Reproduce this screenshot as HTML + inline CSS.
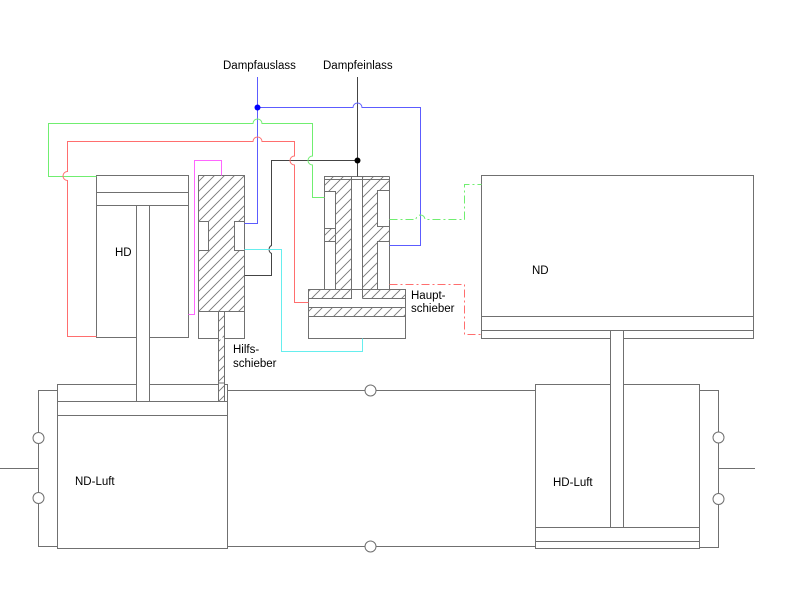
<!DOCTYPE html>
<html><head><meta charset="utf-8"><style>
html,body{margin:0;padding:0;background:#fff;}
svg{display:block;}
text{font-family:"Liberation Sans",Arial,sans-serif;font-size:11.5px;fill:#000;}
</style></head><body>
<svg width="800" height="600" viewBox="0 0 800 600" xmlns="http://www.w3.org/2000/svg">
<defs>
<pattern id="h" patternUnits="userSpaceOnUse" width="10" height="10">
<path d="M0,10 L10,0 M-2,2 L2,-2 M8,12 L12,8" stroke="#777" stroke-width="0.9"/>
</pattern>
</defs>
<g fill="none" stroke="#707070" stroke-width="1">
<!-- HD cylinder -->
<rect x="96.5" y="175.5" width="92" height="162" fill="#fff"/>
<path d="M96.5,192.5H188.5M96.5,205.5H188.5"/>
<path d="M136.5,205.5V401.5M149.5,205.5V401.5"/>
<path d="M137,337.5H149" stroke="#fff" stroke-width="2"/>

<!-- Hilfsschieber -->
<path d="M198.5,175.5H244.5V221.5H234.5V250.5H244.5V311.5H198.5V250.5H208.5V221.5H198.5Z" fill="url(#h)" stroke="none"/>
<rect x="198.5" y="175.5" width="46" height="163"/>
<path d="M198.5,221.5H208.5V250.5H198.5M244.5,221.5H234.5V250.5H244.5"/>
<path d="M198.5,311.5H244.5"/>
<rect x="218.5" y="311.5" width="6" height="90" fill="url(#h)"/>
<path d="M219,338.5H224" stroke="#fff" stroke-width="2"/>

<!-- Hauptschieber -->
<path d="M324.5,176.5H351.5V298.5H308.5V289.5H324.5V241.5H335.5V289.5V228.5H324.5V191.5H335.5V228.5H324.5Z" fill="none"/>
<path d="M324.5,176.5H351.5V298.5H308.5V289.5H335.5V241.5H324.5V228.5H335.5V191.5H324.5Z" fill="url(#h)" stroke="none"/>
<path d="M362.5,176.5H389.5V190.5H377.5V226.5H389.5V241.5H377.5V289.5H405.5V298.5H362.5Z" fill="url(#h)" stroke="none"/>
<rect x="308.5" y="307.5" width="97" height="9" fill="url(#h)" stroke="none"/>
<path d="M324.5,176.5H389.5M324.5,179.5H389.5"/>
<path d="M324.5,176.5V289.5M389.5,176.5V289.5"/>
<path d="M324.5,191.5H335.5V228.5H324.5M324.5,241.5H335.5V289.5"/>
<path d="M389.5,190.5H377.5V226.5H389.5M389.5,241.5H377.5V289.5"/>
<path d="M351.5,176.5V298.5M362.5,176.5V298.5"/>
<rect x="308.5" y="289.5" width="97" height="49"/>
<path d="M308.5,298.5H351.5M362.5,298.5H405.5M308.5,307.5H405.5M308.5,316.5H405.5"/>

<!-- ND cylinder -->
<rect x="481.5" y="175.5" width="272" height="163" fill="#fff"/>
<path d="M481.5,316.5H753.5M481.5,330.5H753.5"/>
<path d="M610.5,330.5V527.5M623.5,330.5V527.5"/>
<path d="M611,338.5H623" stroke="#fff" stroke-width="2"/>

<!-- ND-Luft -->
<rect x="57.5" y="384.5" width="170" height="164" fill="#fff"/>
<path d="M57.5,401.5H227.5M57.5,415.5H227.5"/>
<path d="M136.5,384V401.5M149.5,384V401.5" />
<path d="M137,384.5H149M219,384.5H224" stroke="#fff" stroke-width="2"/>
<path d="M136.5,383V401.5M149.5,383V401.5"/>
<rect x="218.5" y="383" width="6" height="18.5" fill="url(#h)"/>

<!-- HD-Luft -->
<rect x="535.5" y="384.5" width="164" height="164" fill="#fff"/>
<path d="M535.5,527.5H699.5M535.5,541.5H699.5"/>
<path d="M611,384.5H623" stroke="#fff" stroke-width="2"/>
<path d="M610.5,330.5V527.5M623.5,330.5V527.5"/>

<!-- air pipes -->
<path d="M57.5,390.5H38.5V546.5H57.5M38.5,468.5H0"/>
<path d="M227.5,390.5H535.5M227.5,546.5H535.5"/>
<path d="M699.5,390.5H718.5V547.5H699.5M718.5,468.5H755"/>
</g>
<!-- valves -->
<g fill="#fff" stroke="#707070" stroke-width="1">
<circle cx="38.5" cy="438" r="5.5"/>
<circle cx="38.5" cy="498" r="5.5"/>
<circle cx="370.5" cy="390.5" r="5.5"/>
<circle cx="370.5" cy="546.5" r="5.5"/>
<circle cx="718.5" cy="437.5" r="5.5"/>
<circle cx="718.5" cy="499" r="5.5"/>
</g>

<!-- connectors -->
<g fill="none" stroke-width="1">
<path d="M357.5,77V176.5M357.5,160.5H271.5V245.5A4.5,4.5 0 0 0 271.5,253.5V275.5H244.5" stroke="#444"/>
<path d="M257.5,77V223.5H244.5M257.5,107.5H353A4.5,4.5 0 0 1 362,107.5H420.5V245.5H389.5" stroke="#5c5cff"/>
<path d="M96.5,176.5H48.5V123.5H253A4.5,4.5 0 0 1 262,123.5H312.5V156A4.5,4.5 0 0 0 312.5,165V197.5H324.5" stroke="#70ee70"/>
<path d="M96.5,336.5H67.5V180.5A4.5,4.5 0 0 1 67.5,171.5V141.5H253A4.5,4.5 0 0 1 262,141.5H294.5V156A4.5,4.5 0 0 0 294.5,165V302.5H308.5" stroke="#ff6e6e"/>
<path d="M221.5,175.5V160.5H194.5V314.5H188.5" stroke="#ff66ff"/>
<path d="M244.5,249.5H281.5V351.5H362.5V338.5" stroke="#66eeee"/>
<path d="M389.5,219.5H416A4.5,4.5 0 0 1 425,219.5H464.5V184.5H481.5" stroke="#70ee70" stroke-dasharray="8,3,2,3"/>
<path d="M389.5,284.5H464.5V334.5H481.5" stroke="#ff6e6e" stroke-dasharray="8,3,2,3"/>
</g>
<circle cx="257.5" cy="107.5" r="3" fill="#0000ff"/>
<circle cx="357.5" cy="160.5" r="3" fill="#000"/>

<!-- labels -->
<text x="223" y="69">Dampfauslass</text>
<text x="323" y="69">Dampfeinlass</text>
<text x="115" y="256">HD</text>
<text x="532" y="274">ND</text>
<text x="411" y="299">Haupt-</text>
<text x="411" y="312">schieber</text>
<text x="233" y="353">Hilfs-</text>
<text x="233" y="367">schieber</text>
<text x="75" y="485">ND-Luft</text>
<text x="553" y="486">HD-Luft</text>
</svg>
</body></html>
